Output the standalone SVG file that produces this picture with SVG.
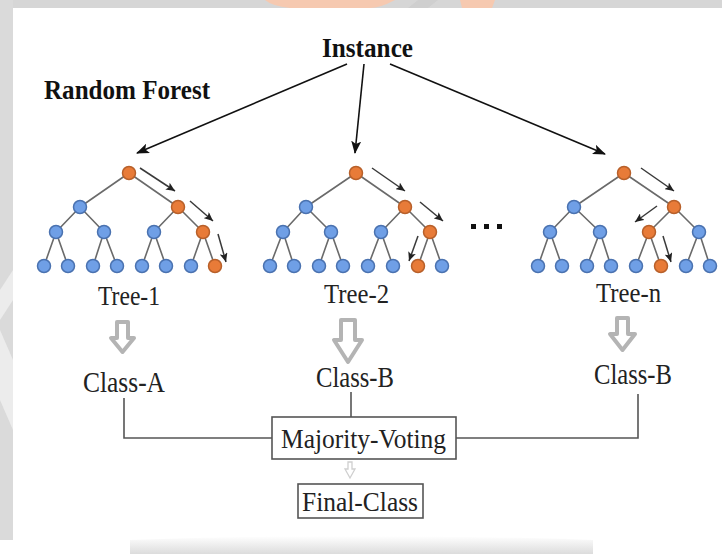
<svg xmlns="http://www.w3.org/2000/svg" xmlns:xlink="http://www.w3.org/1999/xlink" width="722" height="554" viewBox="0 0 722 554">
  <style>
    .bold { font-family: "Liberation Serif", "Times New Roman", serif; font-weight: bold; fill: #111; }
    .lbl { font-family: "Liberation Serif", "Times New Roman", serif; fill: #222; }
    .edge { stroke: #6a6a6a; stroke-width: 1.6; fill: none; }
    .blue { fill: #6f9fe6; stroke: #4a72b0; stroke-width: 1.5; }
    .orange { fill: #e87b38; stroke: #b8602a; stroke-width: 1.5; }
    .conn { stroke: #111; stroke-width: 1.6; fill: none; }
    .path { stroke: #3a3a3a; stroke-width: 1.5; fill: none; }
    .wire { stroke: #555; stroke-width: 1.6; fill: none; }
    .box { fill: #fff; stroke: #555; stroke-width: 1.6; }
    .hollow { fill: #fff; stroke: #b4b4b4; stroke-width: 4; stroke-linejoin: round; }
  </style>
  <defs>
    <marker id="head" markerWidth="14" markerHeight="10" refX="12" refY="5" orient="auto" markerUnits="userSpaceOnUse">
      <path d="M0,0 L13,5 L0,10 L3,5 z" fill="#111"/>
    </marker>
    <marker id="headS" markerWidth="10" markerHeight="8" refX="9" refY="4" orient="auto" markerUnits="userSpaceOnUse">
      <path d="M0,0 L9,4 L0,8 L2,4 z" fill="#222"/>
    </marker>
    <circle id="nb" r="6.5" class="blue"/>
    <circle id="no" r="6.5" class="orange"/>
    <linearGradient id="shade" x1="0" y1="0" x2="0" y2="1">
      <stop offset="0" stop-color="#ffffff"/>
      <stop offset="1" stop-color="#dcdcdc"/>
    </linearGradient>
  </defs>

  <!-- page background and frame -->
  <rect width="722" height="554" fill="#ffffff"/>
  <rect x="0" y="0" width="722" height="8" fill="#d6d6d6"/>
  <rect x="0" y="0" width="13" height="540" fill="#dadada"/>
  <path d="M265,0 L395,0 Q380,8 370,8 L290,8 Q272,6 265,0 z" fill="#f6c9b0"/>
  <path d="M460,0 L495,0 L492,8 L462,8 z" fill="#f6c9b0"/>
  <path d="M418,0 L438,0 L428,8 L408,8 z" fill="#cfcfcf"/>
  <path d="M13,270 L13,300 L0,320 L0,290 z" fill="#ececec"/>
  <path d="M0,330 L13,360 L13,430 L0,400 z" fill="#ececec"/>
  <path d="M130,540 Q360,532 593,540 L593,554 L130,554 z" fill="url(#shade)"/>

  <!-- titles -->
  <g id="instance"><text class="bold" x="322" y="57" font-size="28" textLength="91" lengthAdjust="spacingAndGlyphs">Instance</text></g>
  <g id="title"><text class="bold" x="44" y="99" font-size="28" textLength="166" lengthAdjust="spacingAndGlyphs">Random Forest</text></g>

  <!-- connectors -->
  <g id="connectors">
    <line class="conn" x1="347" y1="64" x2="137" y2="153" marker-end="url(#head)"/>
    <line class="conn" x1="364" y1="64" x2="355" y2="153" marker-end="url(#head)"/>
    <line class="conn" x1="390" y1="64" x2="605" y2="154" marker-end="url(#head)"/>

    <!-- decision paths -->
    <line class="path" x1="140" y1="168" x2="175" y2="191" marker-end="url(#headS)"/>
    <line class="path" x1="190" y1="201" x2="213" y2="221" marker-end="url(#headS)"/>
    <line class="path" x1="218" y1="234" x2="226" y2="262" marker-end="url(#headS)"/>

    <line class="path" x1="372" y1="168" x2="405" y2="191" marker-end="url(#headS)"/>
    <line class="path" x1="420" y1="202" x2="443" y2="221" marker-end="url(#headS)"/>
    <line class="path" x1="418" y1="236" x2="409" y2="261" marker-end="url(#headS)"/>

    <line class="path" x1="641" y1="168" x2="674" y2="191" marker-end="url(#headS)"/>
    <line class="path" x1="657" y1="206" x2="635" y2="222" marker-end="url(#headS)"/>
    <line class="path" x1="663" y1="236" x2="671" y2="262" marker-end="url(#headS)"/>

    <!-- tree to class arrows -->
    <path class="hollow" d="M117,322 L128,322 L128,338 L134,338 L122.5,352 L111,338 L117,338 z"/>
    <path class="hollow" d="M341,320 L355,320 L355,340 L362,340 L348,362 L334,340 L341,340 z"/>
    <path class="hollow" d="M617,318 L628,318 L628,334 L635,334 L622.5,350 L610,334 L617,334 z"/>

    <!-- voting wires -->
    <polyline class="wire" points="124,398 124,438 272,438"/>
    <line class="wire" x1="351" y1="392" x2="351" y2="417"/>
    <polyline class="wire" points="638,394 638,438 456,438"/>
    <path d="M348,462 L352,462 L352,469 L355,469 L350,478 L345,469 L348,469 z" fill="#fff" stroke="#cfcfcf" stroke-width="1.3"/>
  </g>

  <!-- tree 1 -->
  <g id="tree-1">
    <path class="edge" d="M129,173 L80,207 M129,173 L178,207 M80,207 L56,232 M80,207 L104,232 M178,207 L154,232 M178,207 L203,232
      M56,232 L44,266 M56,232 L68,266 M104,232 L93,266 M104,232 L117,266 M154,232 L142,266 M154,232 L166,266 M203,232 L191,266 M203,232 L215,266"/>
    <use href="#no" x="129" y="173"/>
    <use href="#nb" x="80" y="207"/><use href="#no" x="178" y="207"/>
    <use href="#nb" x="56" y="232"/><use href="#nb" x="104" y="232"/><use href="#nb" x="154" y="232"/><use href="#no" x="203" y="232"/>
    <use href="#nb" x="44" y="266"/><use href="#nb" x="68" y="266"/><use href="#nb" x="93" y="266"/><use href="#nb" x="117" y="266"/>
    <use href="#nb" x="142" y="266"/><use href="#nb" x="166" y="266"/><use href="#nb" x="191" y="266"/><use href="#no" x="215" y="266"/>
  </g>

  <!-- tree 2 -->
  <g id="tree-2">
    <path class="edge" d="M356,173 L306,207 M356,173 L405,207 M306,207 L283,232 M306,207 L331,232 M405,207 L381,232 M405,207 L430,232
      M283,232 L270,266 M283,232 L294,266 M331,232 L319,266 M331,232 L343,266 M381,232 L368,266 M381,232 L393,266 M430,232 L418,266 M430,232 L442,266"/>
    <use href="#no" x="356" y="173"/>
    <use href="#nb" x="306" y="207"/><use href="#no" x="405" y="207"/>
    <use href="#nb" x="283" y="232"/><use href="#nb" x="331" y="232"/><use href="#nb" x="381" y="232"/><use href="#no" x="430" y="232"/>
    <use href="#nb" x="270" y="266"/><use href="#nb" x="294" y="266"/><use href="#nb" x="319" y="266"/><use href="#nb" x="343" y="266"/>
    <use href="#nb" x="368" y="266"/><use href="#nb" x="393" y="266"/><use href="#no" x="418" y="266"/><use href="#nb" x="442" y="266"/>
  </g>

  <!-- ellipsis -->
  <g id="ellipsis" fill="#111">
    <rect x="471" y="224" width="5" height="5"/>
    <rect x="484" y="224" width="5" height="5"/>
    <rect x="497" y="224" width="5" height="5"/>
  </g>

  <!-- tree n -->
  <g id="tree-n">
    <path class="edge" d="M624,173 L574,207 M624,173 L674,207 M574,207 L550,232 M574,207 L600,232 M674,207 L649,232 M674,207 L699,232
      M550,232 L538,266 M550,232 L562,266 M600,232 L587,266 M600,232 L611,266 M649,232 L636,266 M649,232 L661,266 M699,232 L686,266 M699,232 L710,266"/>
    <use href="#no" x="624" y="173"/>
    <use href="#nb" x="574" y="207"/><use href="#no" x="674" y="207"/>
    <use href="#nb" x="550" y="232"/><use href="#nb" x="600" y="232"/><use href="#no" x="649" y="232"/><use href="#nb" x="699" y="232"/>
    <use href="#nb" x="538" y="266"/><use href="#nb" x="562" y="266"/><use href="#nb" x="587" y="266"/><use href="#nb" x="611" y="266"/>
    <use href="#nb" x="636" y="266"/><use href="#no" x="661" y="266"/><use href="#nb" x="686" y="266"/><use href="#nb" x="710" y="266"/>
  </g>

  <!-- labels -->
  <g id="label-tree-1"><text class="lbl" x="98" y="305" font-size="27" textLength="62" lengthAdjust="spacingAndGlyphs">Tree-1</text></g>
  <g id="label-tree-2"><text class="lbl" x="324" y="303" font-size="27" textLength="65" lengthAdjust="spacingAndGlyphs">Tree-2</text></g>
  <g id="label-tree-n"><text class="lbl" x="596" y="302" font-size="27" textLength="65" lengthAdjust="spacingAndGlyphs">Tree-n</text></g>

  <g id="class-a"><text class="lbl" x="83" y="392" font-size="29" textLength="82" lengthAdjust="spacingAndGlyphs">Class-A</text></g>
  <g id="class-b"><text class="lbl" x="316" y="387" font-size="29" textLength="78" lengthAdjust="spacingAndGlyphs">Class-B</text></g>
  <g id="class-b-n"><text class="lbl" x="594" y="384" font-size="29" textLength="78" lengthAdjust="spacingAndGlyphs">Class-B</text></g>

  <g id="majority-voting">
    <rect class="box" x="272" y="417" width="184" height="42"/>
    <text class="lbl" x="281" y="448" font-size="28" textLength="165" lengthAdjust="spacingAndGlyphs">Majority-Voting</text>
  </g>
  <g id="final-class">
    <rect class="box" x="298" y="484" width="125" height="34"/>
    <text class="lbl" x="302" y="511" font-size="28" textLength="116" lengthAdjust="spacingAndGlyphs">Final-Class</text>
  </g>
</svg>
